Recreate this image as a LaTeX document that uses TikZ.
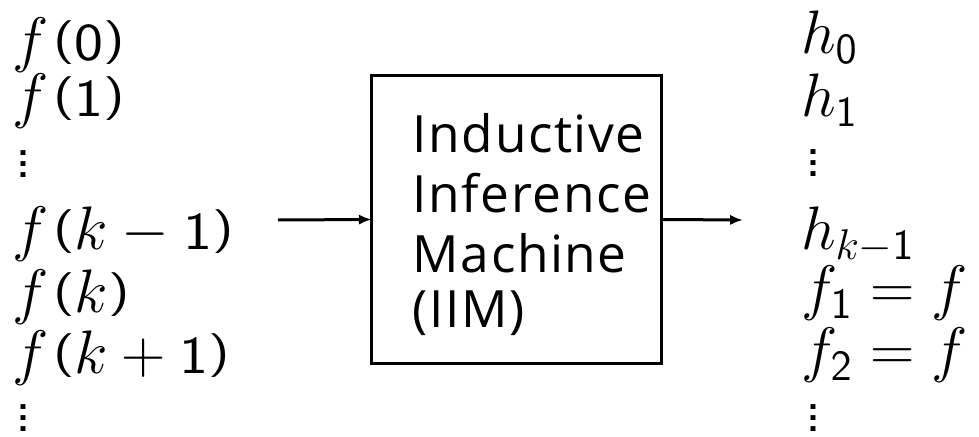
\documentclass[tikz,border=0pt]{standalone}
\usepackage{fix-cm}
\usepackage{graphicx}
\usepackage[no-math]{fontspec}
\newfontfamily\boxfont[LetterSpace=3]{Open Sans}
\DeclareSymbolFont{sfdigits}{OT1}{cmss}{m}{n}
\DeclareMathSymbol{0}{\mathalpha}{sfdigits}{"30}
\DeclareMathSymbol{1}{\mathalpha}{sfdigits}{"31}
\DeclareMathSymbol{2}{\mathalpha}{sfdigits}{"32}
\newcommand\dgfont{\fontsize{18.7}{20}\sffamily}
\newcommand\dg[1]{\mbox{\dgfont\scalebox{1.15}[1]{#1}}}
\newcommand\lp{\mkern1.2mu\mathopen{\mbox{\dgfont\raisebox{2.7pt}{\scalebox{1.1}[0.82]{(}}}}}
\newcommand\rp{\mathclose{\mbox{\dgfont\raisebox{2.7pt}{\scalebox{1.1}[0.82]{)}}}}}
\usetikzlibrary{arrows.meta}
\begin{document}
\begin{tikzpicture}[x=0.35pt,y=-0.35pt,
  font=\fontsize{21.5}{25}\selectfont,
  lbl/.style={anchor=base west, inner sep=0pt, outer sep=0pt},
  boxtext/.style={lbl, font=\boxfont\fontsize{18}{21}\selectfont},
  conn/.style={line width=1.05pt, -{Latex[length=4.5pt,width=3.6pt]}},
  boxst/.style={draw, line width=1.15pt, minimum width=101.5pt, minimum height=100.7pt, inner sep=0pt, outer sep=0pt}]
\useasboundingbox (0,0) rectangle (979,437);
% left column
\node[lbl] (l0) at (13,61) {$f\lp\dg{0}\rp$};
\node[lbl] (l1) at (13,117) {$f\lp\dg{1}\rp$};
\node[lbl] (ld1) at (16,178) {\sffamily\vdots};
\node[lbl] (l3) at (13,250) {$f\lp k-\dg{1}\rp$};
\node[lbl] (l4) at (13,313) {$f\lp k\rp$};
\node[lbl] (l5) at (13,374) {$f\lp k+\dg{1}\rp$};
\node[lbl] (ld2) at (16,432) {\sffamily\vdots};
% right column
\node[lbl] (r0) at (801,54) {$h_0$};
\node[lbl] (r1) at (801,117) {$h_1$};
\node[lbl] (rd1) at (805,177) {\sffamily\vdots};
\node[lbl] (r3) at (801,250) {$h_{k-1}$};
\node[lbl] (r4) at (801,309) {$f_1=f$};
\node[lbl] (r5) at (801,371) {$f_2=f$};
\node[lbl] (rd2) at (805,432) {\sffamily\vdots};
% box
\node[boxst] (iim) at (516.7,219.5) {};
\node[boxtext] (t1) at (413,153) {Inductive};
\node[boxtext] (t2) at (413,213) {Inference};
\node[boxtext] (t3) at (413,273) {Machine};
\node[boxtext] (t4) at (413,328) {(IIM)};
% arrows
\coordinate (ain) at (278,220);
\coordinate (aout) at (743,220);
\draw[conn] (ain) -- (iim.west);
\draw[conn] (iim.east) -- (aout);
\end{tikzpicture}
\end{document}
